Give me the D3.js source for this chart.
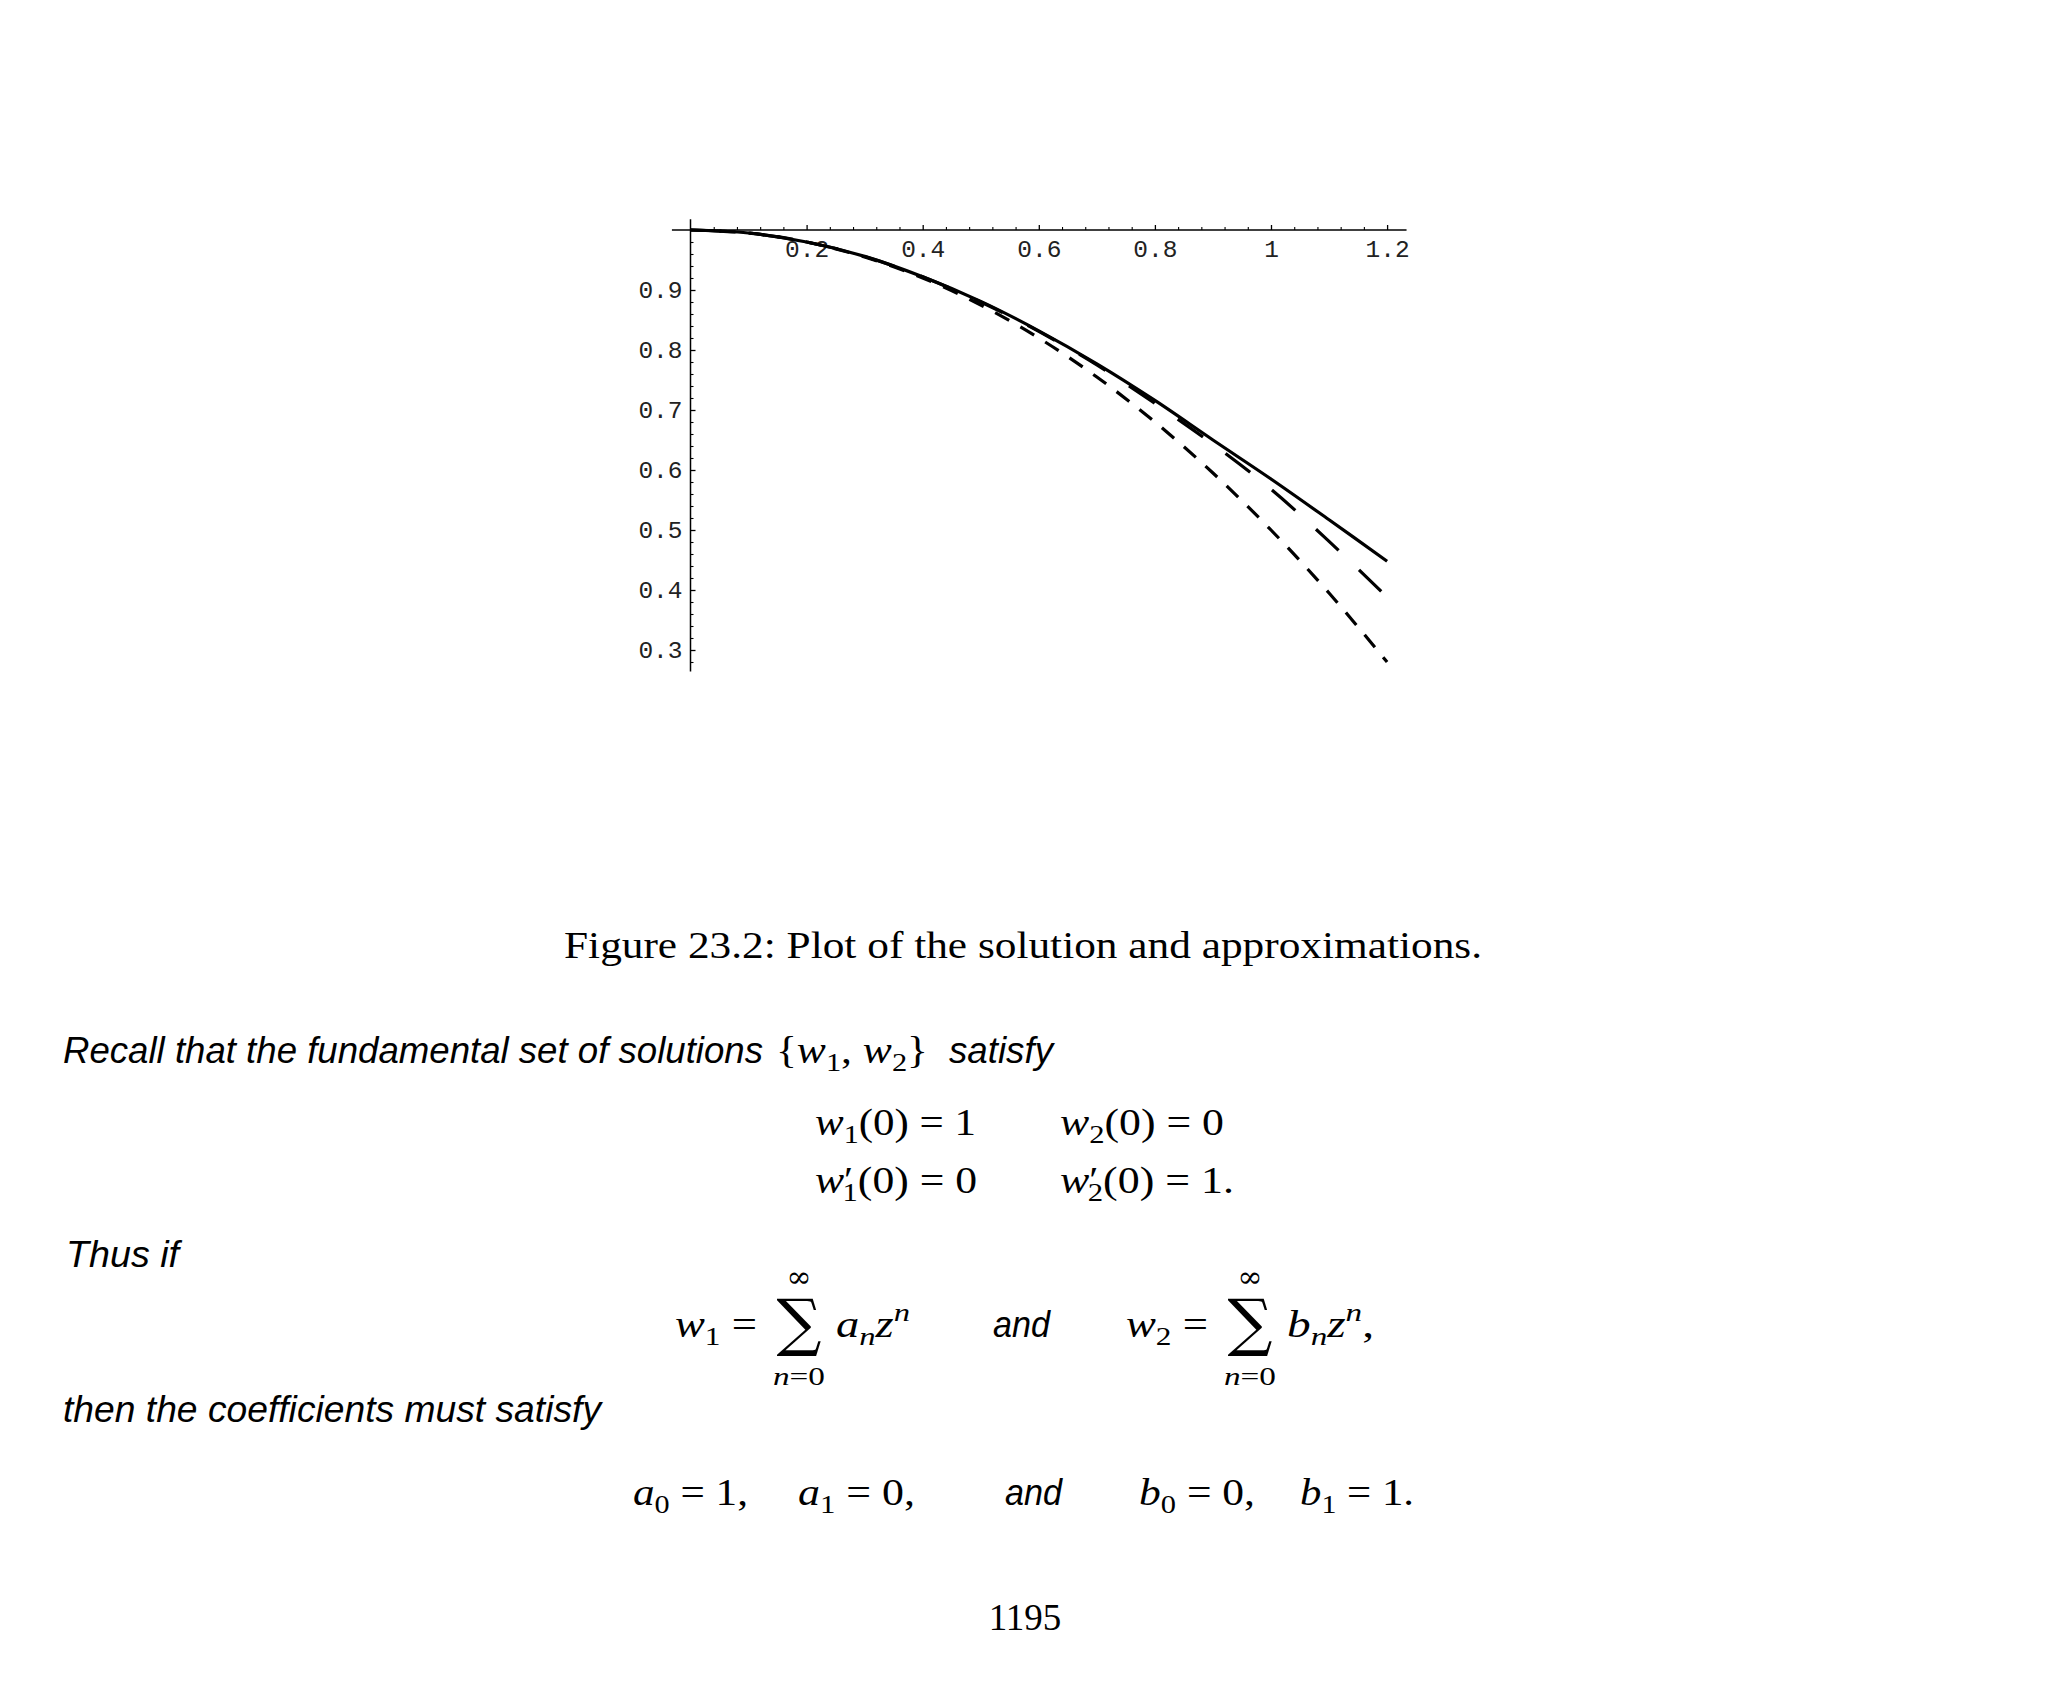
<!DOCTYPE html>
<html>
<head>
<meta charset="utf-8">
<script src="https://cdn.jsdelivr.net/npm/d3@7"></script>
<style>
  html, body { margin: 0; padding: 0; background: #fff; }
  svg { display: block; }
</style>
</head>
<body>
<svg id="page" width="2048" height="1687"></svg>
<script>
// ---------------- data ----------------
const zValues      = [0, 0.1, 0.2, 0.3, 0.4, 0.5, 0.6, 0.7, 0.8, 0.9, 1.0, 1.1, 1.2];
const solution     = [1, 0.995, 0.980, 0.956, 0.922, 0.881, 0.832, 0.777, 0.716, 0.650, 0.585, 0.517, 0.448];
const approxLong   = [1, 0.995, 0.980, 0.956, 0.922, 0.880, 0.831, 0.775, 0.711, 0.643, 0.568, 0.481, 0.388];
const approxShort  = [1, 0.995, 0.980, 0.955, 0.920, 0.875, 0.820, 0.755, 0.680, 0.595, 0.500, 0.395, 0.280];

const xTickValues  = [0.2, 0.4, 0.6, 0.8, 1, 1.2];
const xTickLabels  = ["0.2", "0.4", "0.6", "0.8", "1", "1.2"];
const yTickValues  = [0.3, 0.4, 0.5, 0.6, 0.7, 0.8, 0.9];
const yTickLabels  = ["0.3", "0.4", "0.5", "0.6", "0.7", "0.8", "0.9"];

const caption = "Figure 23.2: Plot of the solution and approximations.";

// ---------------- chart ----------------
const svg = d3.select("#page");
svg.append("rect").attr("width", 2048).attr("height", 1687).attr("fill", "#fff");

const x = d3.scaleLinear().domain([0, 1.2]).range([690.5, 1387.1]);
const y = d3.scaleLinear().domain([1, 0.3]).range([230, 650]);

const chart = svg.append("g");

// axis lines (Mathematica style: axes cross at (0, 1))
chart.append("line")
  .attr("x1", x(-0.032)).attr("x2", x(1.2335))
  .attr("y1", y(1)).attr("y2", y(1))
  .attr("stroke", "#000").attr("stroke-width", 1.5);
chart.append("line")
  .attr("x1", x(0)).attr("x2", x(0))
  .attr("y1", y(1.018)).attr("y2", y(0.264))
  .attr("stroke", "#000").attr("stroke-width", 1.5);

const eps = 1e-6;
const xMinor = d3.range(0, 1.2301, 0.04).filter(v => v > eps && !xTickValues.some(t => Math.abs(t - v) < eps));
const yMinor = d3.range(0.28, 0.9999, 0.02).filter(v => !yTickValues.some(t => Math.abs(t - v) < eps));

// x axis: ticks upward, labels below
const xAxis = d3.axisBottom(x).tickValues(xTickValues)
  .tickFormat((d, i) => xTickLabels[i]).tickSizeInner(-5).tickSizeOuter(0).tickPadding(10);
const gx = chart.append("g").attr("transform", `translate(0,${y(1)})`).call(xAxis);
gx.select(".domain").remove();
gx.selectAll("line").attr("stroke-width", 1.3);

const gxm = chart.append("g").attr("transform", `translate(0,${y(1)})`)
  .call(d3.axisBottom(x).tickValues(xMinor).tickFormat("").tickSizeInner(-3).tickSizeOuter(0));
gxm.select(".domain").remove();
gxm.selectAll("line").attr("stroke-width", 1.1);

// y axis: ticks rightward, labels left
const yAxis = d3.axisLeft(y).tickValues(yTickValues)
  .tickFormat((d, i) => yTickLabels[i]).tickSizeInner(-5).tickSizeOuter(0).tickPadding(8);
const gy = chart.append("g").attr("transform", `translate(${x(0)},0)`).call(yAxis);
gy.select(".domain").remove();
gy.selectAll("line").attr("stroke-width", 1.3);

const gym = chart.append("g").attr("transform", `translate(${x(0)},0)`)
  .call(d3.axisLeft(y).tickValues(yMinor).tickFormat("").tickSizeInner(-3).tickSizeOuter(0));
gym.select(".domain").remove();
gym.selectAll("line").attr("stroke-width", 1.1);

[gx, gy].forEach(g => g.attr("font-family", "'Liberation Mono', 'DejaVu Sans Mono', monospace")
  .attr("font-size", 24.5).selectAll("text").attr("fill", "#222"));

// curves
const line = d3.line().x((d, i) => x(zValues[i])).y(d => y(d)).curve(d3.curveCatmullRom.alpha(0.5));

chart.append("path").datum(approxShort).attr("d", line)
  .attr("fill", "none").attr("stroke", "#000").attr("stroke-width", 3.2)
  .attr("stroke-dasharray", "16,13");
chart.append("path").datum(approxLong).attr("d", line)
  .attr("fill", "none").attr("stroke", "#000").attr("stroke-width", 3.2)
  .attr("stroke-dasharray", "31,28");
chart.append("path").datum(solution).attr("d", line)
  .attr("fill", "none").attr("stroke", "#000").attr("stroke-width", 3.2);

// ---------------- page text ----------------
const SERIF = "'Liberation Serif', 'DejaVu Serif', serif";
const SANS = "'Liberation Sans', 'DejaVu Sans', sans-serif";
const txt = svg.append("g").attr("fill", "#000");

function plain(str, xPos, yPos, opts) {
  const t = txt.append("text").attr("x", xPos).attr("y", yPos)
    .attr("font-family", opts.family).attr("font-size", opts.size)
    .attr("font-style", opts.italic ? "italic" : "normal")
    .text(str);
  if (opts.anchor) t.attr("text-anchor", opts.anchor);
  if (opts.width) t.attr("textLength", opts.width).attr("lengthAdjust", "spacingAndGlyphs");
  return t;
}

// parts: [text, kind, dx] kind: "i" italic, "r" roman, "sub", "subi", "sup", "supi", "prime"
function math(parts, xPos, yPos, width, size) {
  size = size || 37;
  const t = txt.append("text").attr("x", xPos).attr("y", yPos)
    .attr("font-family", SERIF).attr("font-size", size);
  let shift = 0;
  parts.forEach(([s, k, dx]) => {
    let target = 0, fs = size, it = false;
    if (k === "i") it = true;
    if (k === "sub" || k === "subi") { target = 0.22 * size; fs = size * 0.7; it = k === "subi"; }
    if (k === "sup" || k === "supi") { target = -0.42 * size; fs = size * 0.7; it = k === "supi"; }
    if (k === "prime") { target = -0.02 * size; fs = size * 0.95; }
    const ts = t.append("tspan").attr("font-size", fs).attr("font-style", it ? "italic" : "normal")
      .attr("dy", target - shift).text(s);
    if (dx) ts.attr("dx", dx);
    shift = target;
  });
  if (width) t.attr("textLength", width).attr("lengthAdjust", "spacingAndGlyphs");
  return t;
}

plain(caption, 564, 958, { family: SERIF, size: 37, width: 918 });

plain("Recall that the fundamental set of solutions", 63, 1063, { family: SANS, size: 37, italic: true, width: 700 });
math([["{", "r"], ["w", "i"], ["1", "sub"], [", ", "r"], ["w", "i"], ["2", "sub"], ["}", "r"]], 776, 1063, 152);
plain("satisfy", 949, 1063, { family: SANS, size: 37, italic: true, width: 104 });

math([["w", "i"], ["1", "sub"], ["(0) = 1", "r"]], 815, 1135, 161);
math([["w", "i"], ["2", "sub"], ["(0) = 0", "r"]], 1060, 1135, 164);
math([["w", "i"], ["\u2032", "prime"], ["1", "sub", -9], ["(0) = 0", "r"]], 815, 1193, 162);
math([["w", "i"], ["\u2032", "prime"], ["2", "sub", -9], ["(0) = 1.", "r"]], 1060, 1193, 174);

plain("Thus if", 66, 1267, { family: SANS, size: 37, italic: true, width: 113 });

// sums
function sumBlock(cx) {
  plain("\u2211", cx, 1344, { family: "'DejaVu Serif', serif", size: 63, anchor: "middle" });
  plain("\u221E", cx, 1287, { family: "'DejaVu Serif', serif", size: 30, anchor: "middle" });
  math([["n", "i"], ["=0", "r"]], cx - 26, 1385, 52, 26);
}
math([["w", "i"], ["1", "sub"], [" =", "r"]], 675, 1337, 82);
sumBlock(799);
math([["a", "i"], ["n", "subi"], ["z", "i"], ["n", "supi"]], 836, 1337, 74);
plain("and", 993, 1337, { family: SANS, size: 37, italic: true, width: 57 });
math([["w", "i"], ["2", "sub"], [" =", "r"]], 1126, 1337, 82);
sumBlock(1250);
math([["b", "i"], ["n", "subi"], ["z", "i"], ["n", "supi"], [",", "r"]], 1287, 1337, 87);

plain("then the coefficients must satisfy", 63, 1422, { family: SANS, size: 37, italic: true, width: 538 });

math([["a", "i"], ["0", "sub"], [" = 1,", "r"]], 633, 1505, 115);
math([["a", "i"], ["1", "sub"], [" = 0,", "r"]], 798, 1505, 117);
plain("and", 1005, 1505, { family: SANS, size: 37, italic: true, width: 57 });
math([["b", "i"], ["0", "sub"], [" = 0,", "r"]], 1139, 1505, 116);
math([["b", "i"], ["1", "sub"], [" = 1.", "r"]], 1300, 1505, 114);

plain("1195", 1025, 1630, { family: SERIF, size: 37, anchor: "middle" });
</script>
</body>
</html>
